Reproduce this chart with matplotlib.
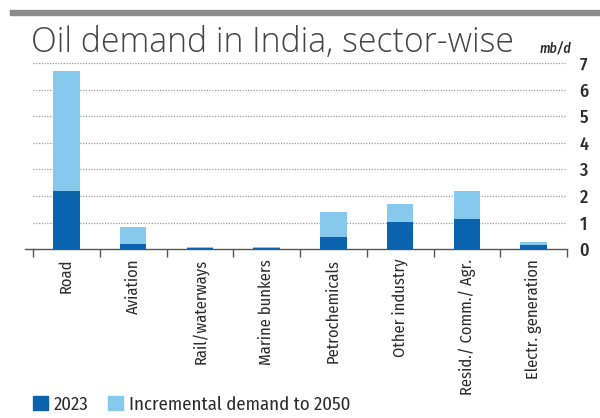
import matplotlib.pyplot as plt
import matplotlib.patches as mpatches
from matplotlib.lines import Line2D
import numpy as np

# Oil demand in India by sector, mb/d
sectors = ['Road', 'Aviation', 'Rail/waterways', 'Marine bunkers', 'Petrochemicals',
           'Other industry', 'Resid./ Comm./ Agr.', 'Electr. generation']
demand_2023 = [2.19, 0.21, 0.06, 0.03, 0.45, 1.02, 1.14, 0.14]
incremental_2050 = [4.50, 0.63, 0.01, 0.04, 0.93, 0.68, 1.04, 0.12]
yticks = [0, 1, 2, 3, 4, 5, 6, 7]

dark = '#0b63ae'
light = '#86c9ec'
txt = '#2b2b2b'
label_font = ['Fira Sans Condensed', 'Archivo Narrow', 'DejaVu Sans']

fig = plt.figure(figsize=(6, 4.18), dpi=100)
fig.patch.set_facecolor('white')
ax = fig.add_axes([0.055, 0.404, 0.89, 0.445])

x = np.arange(len(sectors))
ax.bar(x, demand_2023, 0.4, color=dark, zorder=3)
ax.bar(x, incremental_2050, 0.4, bottom=demand_2023, color=light, zorder=3)

ax.set_xlim(-0.5, len(sectors) - 0.5)
ax.set_ylim(0, 7)

# y axis on the right, dotted grid
ax.yaxis.tick_right()
ax.set_yticks(yticks)
ax.set_yticklabels([str(t) for t in yticks], fontsize=13, color=txt, family=label_font,
                   fontweight=500)
ax.tick_params(axis='y', length=0, pad=9)
for t in yticks[1:]:
    ax.axhline(t, color='#9a9a9a', lw=0.9, ls=(0, (1, 1.2)), zorder=1)

# category boundaries as ticks, names as minor ticks
ax.set_xticks(np.arange(len(sectors) + 1) - 0.5)
ax.set_xticklabels([])
ax.tick_params(axis='x', which='major', length=6, color='#555555', width=1)
ax.set_xticks(x, minor=True)
ax.set_xticklabels(sectors, minor=True, rotation=90, fontsize=11.9, color=txt,
                   family=label_font, va='top', ha='center')
ax.tick_params(axis='x', which='minor', length=0, pad=7)

for s in ['top', 'left', 'right']:
    ax.spines[s].set_visible(False)
ax.spines['bottom'].set_color('#555555')
ax.spines['bottom'].set_linewidth(1)
ax.add_line(Line2D([-0.62, -0.5], [0, 0], color='#555555', lw=1, clip_on=False))

# header
fig.add_artist(mpatches.Rectangle((0.017, 0.964), 0.983, 0.012, color='#8c8c8c',
                                  transform=fig.transFigure))
fig.text(0.052, 0.876, 'Oil demand in India, sector-wise', fontsize=24.3, color='#444444',
         family=['Open Sans', 'DejaVu Sans'], fontweight=300, va='baseline')
fig.text(0.925, 0.873, 'mb/d', fontsize=10, style='italic', fontweight=500, color=txt,
         family=label_font, ha='center', va='baseline')

# legend
handles = [mpatches.Patch(color=dark, label='2023'),
           mpatches.Patch(color=light, label='Incremental demand to 2050')]
fig.legend(handles=handles, loc='center left', bbox_to_anchor=(0.055, 1 - 404.5 / 418), ncol=2,
           frameon=False, handlelength=0.8, handleheight=0.8, handletextpad=0.3,
           columnspacing=1.05, borderpad=0, borderaxespad=0,
           prop={'family': label_font, 'size': 13.5}, labelcolor=txt)

fig.savefig('out.png', dpi=100, facecolor='white')
